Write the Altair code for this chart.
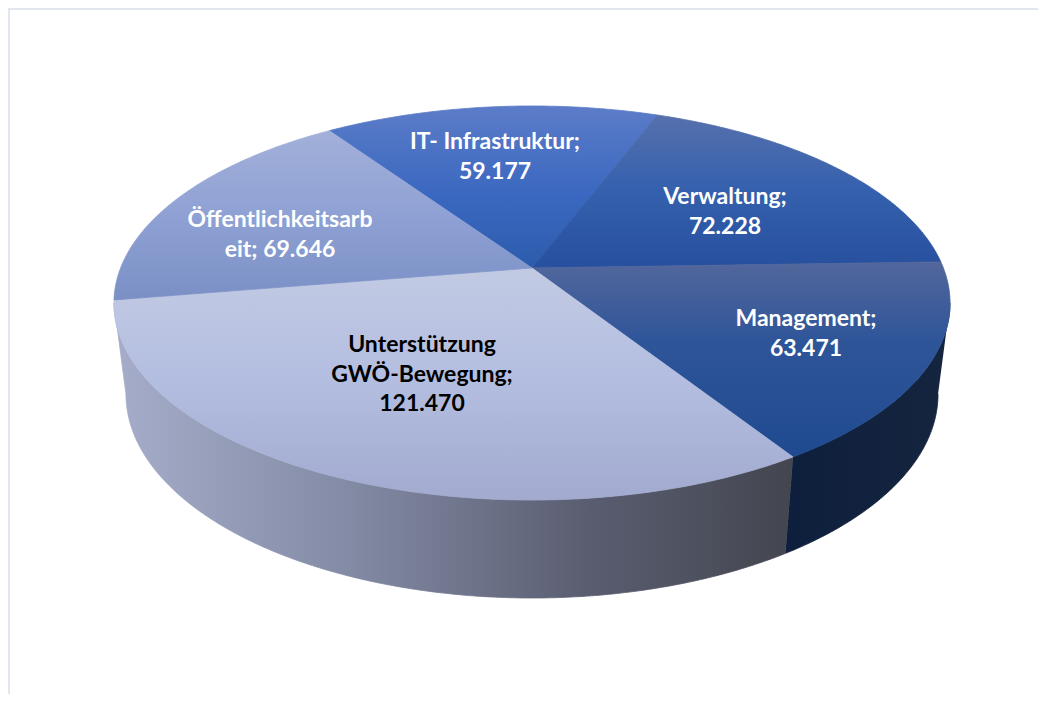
import math
import altair as alt
import pandas as pd

# ---- data ----
categories = ["IT- Infrastruktur", "Verwaltung", "Management", "Unterstützung GWÖ-Bewegung", "Öffentlichkeitsarbeit"]
values = [59.177, 72.228, 63.471, 121.470, 69.646]
value_labels = ["59.177", "72.228", "63.471", "121.470", "69.646"]
label_texts = [
    "IT- Infrastruktur;\n59.177",
    "Verwaltung;\n72.228",
    "Management;\n63.471",
    "Unterstützung\nGWÖ-Bewegung;\n121.470",
    "Öffentlichkeitsarb\neit; 69.646",
]
label_colors = ["#ffffff", "#ffffff", "#ffffff", "#000000", "#ffffff"]

# ---- styles: vertical shading of each top face (offset, colour) ----
top_stops = [
    [(0, "#5c7cc8"), (0.55, "#3a68c0"), (1, "#2c5cac")],
    [(0, "#5670ac"), (0.5, "#3460ae"), (1, "#27509e")],
    [(0, "#52679c"), (0.4, "#2f5599"), (1, "#1f4a90")],
    [(0, "#c2cae3"), (0.5, "#b3bde0"), (1, "#a2abcf")],
    [(0, "#a2b0d9"), (0.5, "#8fa1d4"), (1, "#7a90c5")],
]
wall_unterst_stops = [(0, "#a6adca"), (0.35, "#828aa4"), (0.7, "#5a5d70"), (1, "#43464f")]
wall_mgmt_stops = [(0, "#0e1f3d"), (1, "#15253f")]

# ---- layout ----
FIRST_ANGLE = -34.4          # degrees, clockwise from the back of the pie
CX, APEX_Y = 532.0, 268.0    # pie centre as seen in perspective
A, B, P = 411.4, 190.8, 0.1776
RX, CY, RY = 418.0, 303.0, 197.0   # apparent ellipse of the top face
BOT_RX, BOT_CY, BOT_RY = 406.0, 394.0, 204.0  # apparent ellipse of the bottom rim
PAD = 4
W, H = 1026, 682
LABEL_ANCHORS = [(495, 142), (725, 197), (806, 319), (422, 345), (280, 220)]


def top_point(deg, r=1.0):
    t = math.radians(deg)
    u, v = r * math.sin(t), r * math.cos(t)
    k = 1 + P * v
    return CX + A * u / k, APEX_Y - B * v / k


def bottom_point(deg):
    x, y = top_point(deg)
    ux, uy = (x - CX) / RX, (y - CY) / RY
    return CX + BOT_RX * ux, BOT_CY + BOT_RY * uy


def arc_degrees(a0, a1):
    n = max(2, int(abs(a1 - a0)) * 2)
    return [a0 + (a1 - a0) * i / n for i in range(n + 1)]


def gradient(stops, horizontal=False):
    return alt.LinearGradient(
        gradient="linear",
        x1=0, y1=0,
        x2=1 if horizontal else 0,
        y2=0 if horizontal else 1,
        stops=[alt.GradientStop(offset=o, color=c) for o, c in stops],
    )


x_scale = alt.Scale(domain=[8 + PAD, 8 + PAD + W], range=[0, W], nice=False, zero=False)
y_scale = alt.Scale(domain=[8 + PAD + H, 8 + PAD], range=[H, 0], nice=False, zero=False)


def polygon(points, fill):
    df = pd.DataFrame({"x": [p[0] for p in points], "y": [p[1] for p in points], "o": range(len(points))})
    return alt.Chart(df).mark_line(fill=fill, stroke=fill, strokeWidth=0.8).encode(
        x=alt.X("x:Q", scale=x_scale, axis=None),
        y=alt.Y("y:Q", scale=y_scale, axis=None),
        order="o:O",
    )


total = sum(values)
edges = [FIRST_ANGLE]
for val in values:
    edges.append(edges[-1] + val / total * 360)

layers = []

# frame
frame = pd.DataFrame({"x": [1046, 9, 9], "y": [9, 9, 702], "o": [0, 1, 2]})
layers.append(
    alt.Chart(frame).mark_line(color="#e2e7ef", strokeWidth=2).encode(
        x=alt.X("x:Q", scale=x_scale, axis=None),
        y=alt.Y("y:Q", scale=y_scale, axis=None),
        order="o:O",
    )
)

# side walls: the widest points of the ellipse bound the visible wall
widest = math.degrees(math.acos(-P))
mgmt_start, mgmt_end = widest, edges[3]
unt_start, unt_end = edges[3], 360 - widest


def wall(a0, a1):
    degs = arc_degrees(a0, a1)
    return [top_point(d) for d in degs] + [bottom_point(d) for d in reversed(degs)]


layers.append(polygon(wall(mgmt_start, mgmt_end), gradient(wall_mgmt_stops, True)))
layers.append(polygon(wall(unt_start, unt_end), gradient(wall_unterst_stops, True)))

# top faces
for i in range(len(values)):
    pts = [top_point(0, 0)] + [top_point(d) for d in arc_degrees(edges[i], edges[i + 1])] + [top_point(0, 0)]
    layers.append(polygon(pts, gradient(top_stops[i])))

# labels
labels = pd.DataFrame({
    "x": [a[0] for a in LABEL_ANCHORS],
    "y": [a[1] for a in LABEL_ANCHORS],
    "t": label_texts,
    "c": label_colors,
})
layers.append(
    alt.Chart(labels).mark_text(
        font="Lato", fontSize=23, fontWeight="bold", lineBreak="\n", lineHeight=29.5,
        align="center", baseline="middle",
    ).encode(
        x=alt.X("x:Q", scale=x_scale, axis=None),
        y=alt.Y("y:Q", scale=y_scale, axis=None),
        text="t:N",
        color=alt.Color("c:N", scale=None),
    )
)

chart = alt.layer(*layers).properties(
    width=W, height=H,
    padding={"left": PAD, "top": PAD, "right": 0, "bottom": 0},
    background="white",
    autosize=alt.AutoSizeParams(type="none"),
).configure_view(stroke=None)

chart.save("out.html", embed_options={"renderer": "svg", "actions": False})
